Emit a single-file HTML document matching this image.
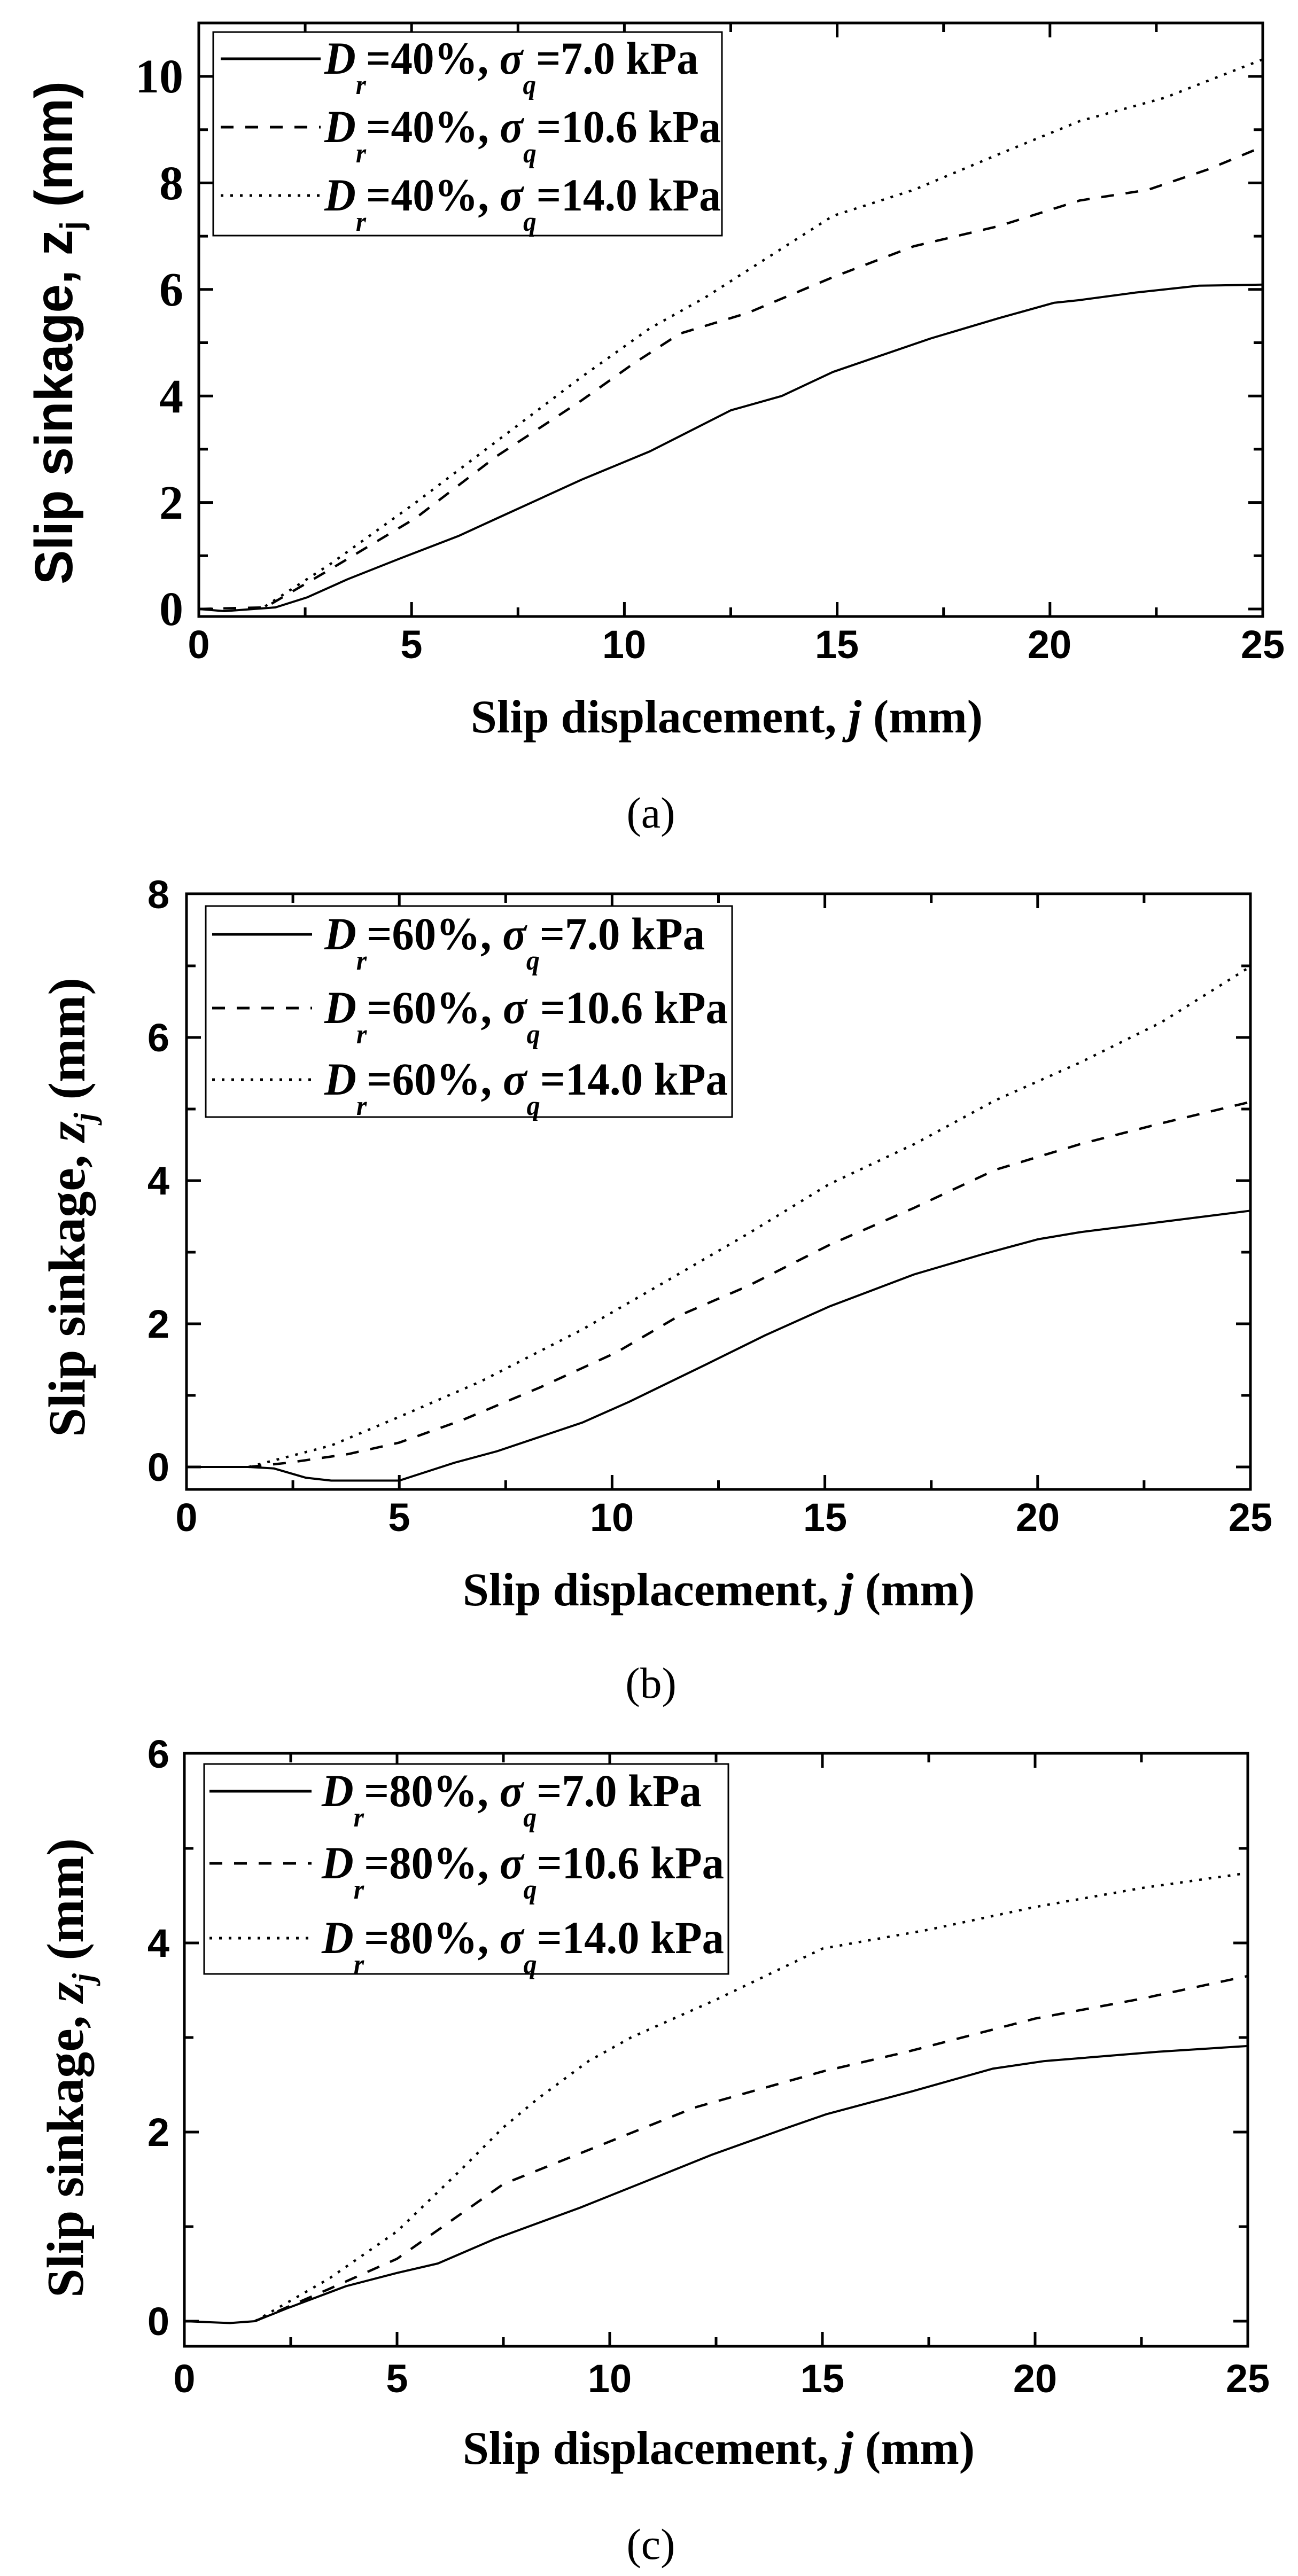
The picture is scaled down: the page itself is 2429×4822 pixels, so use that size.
<!DOCTYPE html>
<html><head><meta charset="utf-8"><style>
html,body{margin:0;padding:0;background:#fff}
svg{display:block}
.sb{font-family:"Liberation Sans",sans-serif;font-weight:bold}
.tb{font-family:"Liberation Serif",serif;font-weight:bold}
.tr{font-family:"Liberation Serif",serif}
</style></head><body>
<svg id="s" width="2429" height="4822" viewBox="0 0 2429 4822" xmlns="http://www.w3.org/2000/svg">
<rect width="2429" height="4822" fill="#fff"/>
<g id="plots"></g>

<!-- Panel A texts -->
<g class="tb" font-size="90" text-anchor="end">
<text x="343" y="1170">0</text><text x="343" y="971">2</text><text x="343" y="772">4</text><text x="343" y="572">6</text><text x="343" y="373">8</text><text x="343" y="173">10</text>
</g>
<g class="sb" font-size="74" text-anchor="middle">
<text x="372" y="1232">0</text><text x="770" y="1232">5</text><text x="1168" y="1232">10</text><text x="1566" y="1232">15</text><text x="1964" y="1232">20</text><text x="2363" y="1232">25</text>
</g>
<text class="tb" font-size="88" x="1360" y="1371" text-anchor="middle">Slip displacement, <tspan font-style="italic">j</tspan> (mm)</text>
<text class="tr" font-size="82" x="1218" y="1549" text-anchor="middle">(a)</text>
<text class="sb" font-size="100" transform="translate(135,623) rotate(-90)" text-anchor="middle" textLength="942" lengthAdjust="spacingAndGlyphs">Slip sinkage, z<tspan font-size="60" dy="20">j</tspan><tspan dy="-20"> (mm)</tspan></text>

<!-- Panel B texts -->
<g class="sb" font-size="74" text-anchor="end">
<text x="317" y="2772">0</text><text x="317" y="2504">2</text><text x="317" y="2236">4</text><text x="317" y="1968">6</text><text x="317" y="1700">8</text>
</g>
<g class="sb" font-size="74" text-anchor="middle">
<text x="349" y="2866">0</text><text x="747" y="2866">5</text><text x="1145" y="2866">10</text><text x="1544" y="2866">15</text><text x="1942" y="2866">20</text><text x="2340" y="2866">25</text>
</g>
<text class="tb" font-size="88" x="1345" y="3005" text-anchor="middle">Slip displacement, <tspan font-style="italic">j</tspan> (mm)</text>
<text class="tr" font-size="82" x="1218" y="3178" text-anchor="middle">(b)</text>
<text class="tb" font-size="98" transform="translate(158,2260) rotate(-90)" text-anchor="middle" textLength="860" lengthAdjust="spacingAndGlyphs">Slip sinkage, <tspan font-style="italic">z</tspan><tspan font-size="58" dy="20" font-style="italic">j</tspan><tspan dy="-20"> (mm)</tspan></text>

<!-- Panel C texts -->
<g class="sb" font-size="74" text-anchor="end">
<text x="317" y="4371">0</text><text x="317" y="4017">2</text><text x="317" y="3663">4</text><text x="317" y="3309">6</text>
</g>
<g class="sb" font-size="74" text-anchor="middle">
<text x="345" y="4478">0</text><text x="743" y="4478">5</text><text x="1141" y="4478">10</text><text x="1539" y="4478">15</text><text x="1937" y="4478">20</text><text x="2335" y="4478">25</text>
</g>
<text class="tb" font-size="88" x="1345" y="4612" text-anchor="middle">Slip displacement, <tspan font-style="italic">j</tspan> (mm)</text>
<text class="tr" font-size="82" x="1218" y="4790" text-anchor="middle">(c)</text>
<text class="tb" font-size="98" transform="translate(155,3871) rotate(-90)" text-anchor="middle" textLength="860" lengthAdjust="spacingAndGlyphs">Slip sinkage, <tspan font-style="italic">z</tspan><tspan font-size="58" dy="20" font-style="italic">j</tspan><tspan dy="-20"> (mm)</tspan></text>

<!-- Legend texts -->
<g class="tb" font-size="86">
<text x="607" y="138" textLength="700" lengthAdjust="spacingAndGlyphs"><tspan font-style="italic">D</tspan><tspan font-size="52" dy="38" font-style="italic">r</tspan><tspan dy="-38">=40%, </tspan><tspan font-style="italic">σ</tspan><tspan font-size="52" dy="38" font-style="italic">q</tspan><tspan dy="-38">=7.0 kPa</tspan></text>
<text x="607" y="266" textLength="742" lengthAdjust="spacingAndGlyphs"><tspan font-style="italic">D</tspan><tspan font-size="52" dy="38" font-style="italic">r</tspan><tspan dy="-38">=40%, </tspan><tspan font-style="italic">σ</tspan><tspan font-size="52" dy="38" font-style="italic">q</tspan><tspan dy="-38">=10.6 kPa</tspan></text>
<text x="607" y="394" textLength="742" lengthAdjust="spacingAndGlyphs"><tspan font-style="italic">D</tspan><tspan font-size="52" dy="38" font-style="italic">r</tspan><tspan dy="-38">=40%, </tspan><tspan font-style="italic">σ</tspan><tspan font-size="52" dy="38" font-style="italic">q</tspan><tspan dy="-38">=14.0 kPa</tspan></text>

<text x="607" y="1777" textLength="712" lengthAdjust="spacingAndGlyphs"><tspan font-style="italic">D</tspan><tspan font-size="52" dy="38" font-style="italic">r</tspan><tspan dy="-38">=60%, </tspan><tspan font-style="italic">σ</tspan><tspan font-size="52" dy="38" font-style="italic">q</tspan><tspan dy="-38">=7.0 kPa</tspan></text>
<text x="607" y="1915" textLength="755" lengthAdjust="spacingAndGlyphs"><tspan font-style="italic">D</tspan><tspan font-size="52" dy="38" font-style="italic">r</tspan><tspan dy="-38">=60%, </tspan><tspan font-style="italic">σ</tspan><tspan font-size="52" dy="38" font-style="italic">q</tspan><tspan dy="-38">=10.6 kPa</tspan></text>
<text x="607" y="2049" textLength="755" lengthAdjust="spacingAndGlyphs"><tspan font-style="italic">D</tspan><tspan font-size="52" dy="38" font-style="italic">r</tspan><tspan dy="-38">=60%, </tspan><tspan font-style="italic">σ</tspan><tspan font-size="52" dy="38" font-style="italic">q</tspan><tspan dy="-38">=14.0 kPa</tspan></text>

<text x="602" y="3381" textLength="711" lengthAdjust="spacingAndGlyphs"><tspan font-style="italic">D</tspan><tspan font-size="52" dy="38" font-style="italic">r</tspan><tspan dy="-38">=80%, </tspan><tspan font-style="italic">σ</tspan><tspan font-size="52" dy="38" font-style="italic">q</tspan><tspan dy="-38">=7.0 kPa</tspan></text>
<text x="602" y="3516" textLength="753" lengthAdjust="spacingAndGlyphs"><tspan font-style="italic">D</tspan><tspan font-size="52" dy="38" font-style="italic">r</tspan><tspan dy="-38">=80%, </tspan><tspan font-style="italic">σ</tspan><tspan font-size="52" dy="38" font-style="italic">q</tspan><tspan dy="-38">=10.6 kPa</tspan></text>
<text x="602" y="3656" textLength="753" lengthAdjust="spacingAndGlyphs"><tspan font-style="italic">D</tspan><tspan font-size="52" dy="38" font-style="italic">r</tspan><tspan dy="-38">=80%, </tspan><tspan font-style="italic">σ</tspan><tspan font-size="52" dy="38" font-style="italic">q</tspan><tspan dy="-38">=14.0 kPa</tspan></text>
</g>
</svg>
<script>
var NS="http://www.w3.org/2000/svg",G=document.getElementById("plots");
function el(t,a){var e=document.createElementNS(NS,t);for(var k in a)e.setAttribute(k,a[k]);G.appendChild(e);return e;}
var panels=[
{L:372,R:2363,T:43,B:1154,y0:1140,u:99.7,ymaxT:10,ystep:2,
 lg:{x1:399,x2:1351,y1:60,y2:441,lx1:413,lx2:600,rows:[110,238,366]},
 s:[[[0,0],[0.6,-0.04],[1.8,0.03],[2.55,0.22],[3.5,0.56],[4.7,0.94],[6.1,1.37],[7,1.7],[9,2.43],[10.6,2.96],[12.5,3.73],[13.7,4.0],[14.9,4.45],[17.2,5.08],[18.8,5.46],[20.1,5.75],[20.7,5.8],[22,5.94],[23.5,6.07],[25,6.09]],
    [[0,0],[1.56,0.03],[3.1,0.75],[5.1,1.71],[7,2.87],[9,3.92],[10.2,4.6],[11.3,5.17],[12.9,5.56],[14.9,6.23],[16.8,6.81],[18.8,7.19],[20.7,7.67],[22.3,7.87],[23.7,8.25],[25,8.68]],
    [[1.56,0.05],[3.1,0.85],[5.1,2.0],[7,3.15],[9,4.36],[10.6,5.27],[11.9,5.85],[14.9,7.38],[16.8,7.87],[18.8,8.54],[20.7,9.16],[22.7,9.6],[25,10.32]]]},
{L:349,R:2340,T:1673,B:2788,y0:2746,u:134,ymaxT:8,ystep:2,
 lg:{x1:385,x2:1370,y1:1696,y2:2091,lx1:397,lx2:584,rows:[1749,1887,2021]},
 s:[[[0,0],[1.46,0],[2.05,-0.02],[2.8,-0.15],[3.4,-0.19],[5,-0.19],[6.3,0.06],[7.3,0.22],[9.3,0.62],[10.4,0.91],[12.2,1.43],[13.6,1.84],[15.1,2.24],[17.1,2.69],[18.7,2.97],[20,3.18],[21,3.28],[25,3.58]],
    [[1.46,0],[2.4,0.06],[3.8,0.18],[5,0.34],[6.5,0.66],[8.3,1.11],[10.1,1.6],[11.6,2.12],[13.2,2.53],[15.1,3.1],[17.1,3.62],[19,4.15],[21,4.51],[22.9,4.8],[25,5.1]],
    [[1.46,0],[3.4,0.3],[5,0.7],[6.9,1.19],[9.3,1.92],[11.2,2.57],[13.2,3.26],[15.1,3.95],[17.1,4.51],[19,5.12],[21,5.65],[22.9,6.21],[25,6.99]]]},
{L:345,R:2335,T:3282,B:4392,y0:4345,u:177,ymaxT:6,ystep:2,
 lg:{x1:382,x2:1363,y1:3302,y2:3695,lx1:392,lx2:583,rows:[3353,3488,3628]},
 s:[[[0,0],[1.07,-0.02],[1.66,0],[2.44,0.14],[3.8,0.37],[5,0.51],[5.96,0.61],[7.3,0.87],[9.3,1.2],[10.8,1.47],[12.4,1.76],[14.2,2.05],[15.1,2.19],[17.1,2.43],[19,2.67],[20.2,2.75],[22.9,2.85],[25,2.91]],
    [[1.66,0],[3.4,0.34],[5,0.66],[7.5,1.45],[10,1.9],[12,2.26],[15,2.64],[17,2.85],[20,3.2],[22.5,3.41],[25,3.65]],
    [[1.66,0],[3.4,0.45],[5,0.95],[6.5,1.6],[7.5,2.05],[8.3,2.35],[9.5,2.75],[10.5,3.0],[12.5,3.4],[15,3.94],[17.5,4.14],[20,4.38],[22.5,4.58],[25,4.74]]]}
];
var dash=["none","24 22","5 13"];
panels.forEach(function(p){
  var sx=(p.R-p.L)/25;
  function X(x){return p.L+x*sx;} function Y(y){return p.y0-y*p.u;}
  var d="";
  for(var i=0;i<=10;i++){var x=X(i*2.5),len=(i%2==0)?27:17;d+="M"+x+" "+p.B+"v"+(-len)+"M"+x+" "+p.T+"v"+len;}
  for(var v=0;v<=p.ymaxT+0.001;v+=p.ystep/2){var y=Y(v),len=(Math.round(v/(p.ystep/2))%2==0)?27:17;if(y<p.T+2||y>p.B-2)continue;d+="M"+p.L+" "+y+"h"+len+"M"+p.R+" "+y+"h"+(-len);}
  el("path",{d:d,stroke:"#000","stroke-width":5,fill:"none"});
  p.s.forEach(function(pts,k){
    var dd="M"+pts.map(function(q){return X(q[0]).toFixed(1)+" "+Y(q[1]).toFixed(1);}).join("L");
    var a={d:dd,stroke:"#000","stroke-width":k==0?4:4.5,fill:"none","stroke-linejoin":"round"};
    if(k>0)a["stroke-dasharray"]=dash[k];
    el("path",a);
  });
  var g=p.lg;
  el("rect",{x:g.x1,y:g.y1,width:g.x2-g.x1,height:g.y2-g.y1,fill:"#fff",stroke:"#000","stroke-width":3});
  g.rows.forEach(function(r,k){var a={x1:g.lx1,x2:g.lx2,y1:r,y2:r,stroke:"#000","stroke-width":5};if(k>0)a["stroke-dasharray"]=dash[k];el("line",a);});
  el("rect",{x:p.L,y:p.T,width:p.R-p.L,height:p.B-p.T,fill:"none",stroke:"#000","stroke-width":5});
});
</script>
</body></html>
